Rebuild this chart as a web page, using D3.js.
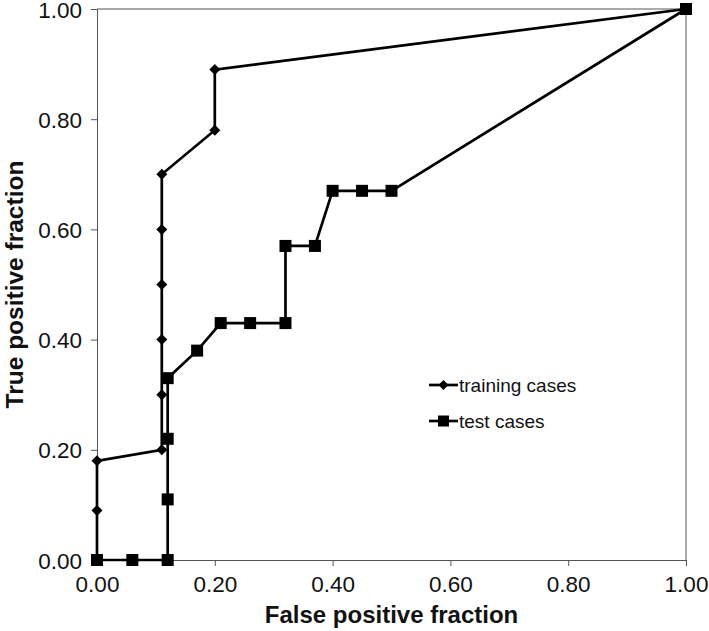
<!DOCTYPE html>
<html><head><meta charset="utf-8">
<script src="https://cdn.jsdelivr.net/npm/d3@7/dist/d3.min.js"></script>
<style>body{margin:0;background:#fff;} svg{display:block;font-family:"Liberation Sans",Arial,sans-serif;}</style>
</head><body><svg id="c" width="709" height="631"></svg>
<script>
const trainingFPF = [0, 0, 0, 0.11, 0.11, 0.11, 0.11, 0.11, 0.11, 0.20, 0.20, 1.00];
const trainingTPF = [0, 0.09, 0.18, 0.20, 0.30, 0.40, 0.50, 0.60, 0.70, 0.78, 0.89, 1.00];
const testFPF = [0, 0.06, 0.12, 0.12, 0.12, 0.12, 0.17, 0.21, 0.26, 0.32, 0.32, 0.37, 0.40, 0.45, 0.50, 1.00];
const testTPF = [0, 0, 0, 0.11, 0.22, 0.33, 0.38, 0.43, 0.43, 0.43, 0.57, 0.57, 0.67, 0.67, 0.67, 1.00];
const tickValues = [0, 0.2, 0.4, 0.6, 0.8, 1.0];
const seriesNames = ["training cases", "test cases"];
const xTitle = "False positive fraction";
const yTitle = "True positive fraction";

const svg = d3.select("#c");
const L = 97, R = 686, T = 9, B = 560;
const x = d3.scaleLinear().domain([0, 1]).range([L, R]);
const y = d3.scaleLinear().domain([0, 1]).range([B, T]);

// frame top/right
svg.append("line").attr("x1", L).attr("x2", R).attr("y1", T).attr("y2", T).attr("stroke", "#555").attr("stroke-width", 1);
svg.append("line").attr("x1", R).attr("x2", R).attr("y1", T).attr("y2", B).attr("stroke", "#555").attr("stroke-width", 1);

const xAxis = svg.append("g").attr("transform", `translate(0,${B})`)
  .call(d3.axisBottom(x).tickValues(tickValues).tickFormat(d3.format(".2f")).tickSizeOuter(0).tickSize(6));
const yAxis = svg.append("g").attr("transform", `translate(${L},0)`)
  .call(d3.axisLeft(y).tickValues(tickValues).tickFormat(d3.format(".2f")).tickSizeOuter(0).tickSize(6));
[xAxis, yAxis].forEach(g => {
  g.select(".domain").attr("stroke", "#555");
  g.selectAll(".tick line").attr("stroke", "#555");
  g.selectAll("text").attr("font-size", 22.5).attr("fill", "#111").attr("font-family", "Liberation Sans, Arial, sans-serif");
});
xAxis.selectAll("text").attr("dy", null).attr("y", 32);
yAxis.selectAll("text").attr("x", -15).attr("dy", "0.36em");

svg.append("text").attr("x", (L + R) / 2).attr("y", 623).attr("text-anchor", "middle")
  .attr("font-size", 24).attr("font-weight", "bold").attr("fill", "#111").text(xTitle);
svg.append("text").attr("transform", `translate(23,${(T + B) / 2}) rotate(-90)`).attr("text-anchor", "middle")
  .attr("font-size", 24.5).attr("font-weight", "bold").attr("fill", "#111").text(yTitle);

const line = d3.line().x(d => x(d[0])).y(d => y(d[1]));
const train = trainingFPF.map((v, i) => [v, trainingTPF[i]]);
const test = testFPF.map((v, i) => [v, testTPF[i]]);

svg.append("path").datum(train).attr("d", line).attr("fill", "none").attr("stroke", "#000").attr("stroke-width", 2.7);
svg.append("path").datum(test).attr("d", line).attr("fill", "none").attr("stroke", "#000").attr("stroke-width", 2.7);

function diamondPath(s) { return `M0,${-s}L${s},0L0,${s}L${-s},0Z`; }
svg.append("g").selectAll("path").data(train.slice(1)).join("path")
  .attr("transform", d => `translate(${x(d[0])},${y(d[1])})`).attr("d", diamondPath(5.5)).attr("fill", "#000");
svg.append("g").selectAll("rect").data(test).join("rect")
  .attr("x", d => x(d[0]) - 6).attr("y", d => y(d[1]) - 6).attr("width", 12).attr("height", 12).attr("fill", "#000");

// legend
const lg = svg.append("g");
const ly = [385, 421];
seriesNames.forEach((n, i) => {
  lg.append("line").attr("x1", 429).attr("x2", 458).attr("y1", ly[i]).attr("y2", ly[i]).attr("stroke", "#000").attr("stroke-width", 2.7);
  if (i === 0) lg.append("path").attr("transform", `translate(443.5,${ly[i]})`).attr("d", diamondPath(5)).attr("fill", "#000");
  else lg.append("rect").attr("x", 438).attr("y", ly[i] - 5.5).attr("width", 11).attr("height", 11).attr("fill", "#000");
  lg.append("text").attr("x", 459).attr("y", ly[i]).attr("dy", "0.35em").attr("font-size", 19).attr("fill", "#111").text(n);
});
</script></body></html>
